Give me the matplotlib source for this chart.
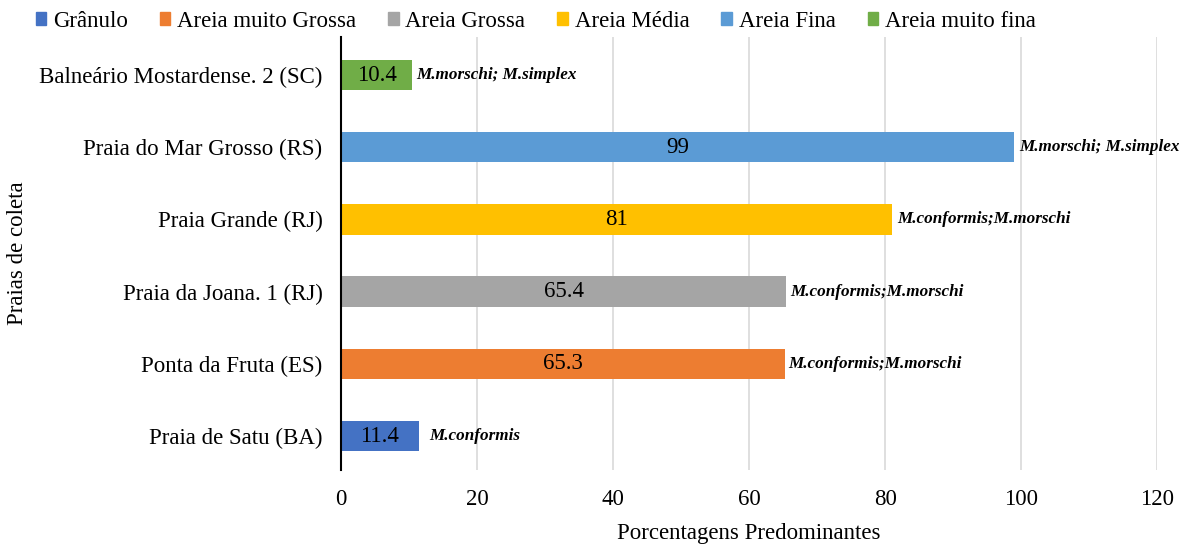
import matplotlib
matplotlib.use("Agg")
import matplotlib.pyplot as plt
from matplotlib.patches import Patch

plt.rcParams['font.family'] = ['Liberation Serif', 'DejaVu Serif']

praias = ["Praia de Satu (BA)", "Ponta da Fruta (ES)", "Praia da Joana. 1 (RJ)",
          "Praia Grande (RJ)", "Praia do Mar Grosso (RS)", "Balneário Mostardense. 2 (SC)"]
valores = [11.4, 65.3, 65.4, 81, 99, 10.4]
rotulos = ["11.4", "65.3", "65.4", "81", "99", "10.4"]
especies = ["M.conformis", "M.conformis;M.morschi", "M.conformis;M.morschi",
            "M.conformis;M.morschi", "M.morschi; M.simplex", "M.morschi; M.simplex"]
classes = ["Grânulo", "Areia muito Grossa", "Areia Grossa", "Areia Média", "Areia Fina", "Areia muito fina"]
cores = ["#4472C4", "#ED7D31", "#A5A5A5", "#FFC000", "#5B9BD5", "#70AD47"]
especie_offset = [1.6, 0.4, 0.7, 0.7, 0.7, 0.7]

fig = plt.figure(figsize=(11.93, 5.49), dpi=100)
ax = fig.add_axes([0.286, 0.144, 0.684, 0.789])

y = range(len(praias))
ax.barh(y, valores, height=0.42, color=cores, zorder=2)
for i in y:
    ax.text(valores[i] / 2, i, rotulos[i], ha='center', va='center', fontsize=16.5, zorder=3)
    ax.text(valores[i] + especie_offset[i], i, especies[i], ha='left', va='center',
            fontsize=12.3, fontweight='bold', fontstyle='italic', zorder=3)

ax.set_xlim(0, 120)
ax.set_ylim(-0.47, 5.53)
ax.set_xticks(range(0, 121, 20))
ax.set_yticks(list(y))
ax.set_yticklabels(praias)
ax.tick_params(axis='x', length=0, labelsize=16.5, pad=14)
ax.tick_params(axis='y', length=0, labelsize=16.5, pad=13.5)
ax.grid(axis='x', color='#D9D9D9', linewidth=1.2, zorder=0)
for s in ['top', 'right', 'bottom']:
    ax.spines[s].set_visible(False)
ax.spines['left'].set_color('black')
ax.spines['left'].set_linewidth(1.5)
ax.spines['left'].set_zorder(4)

ax.set_xlabel("Porcentagens Predominantes", fontsize=16.5, labelpad=9)
ax.set_ylabel("Praias de coleta", fontsize=16.5)
ax.yaxis.set_label_coords(-0.384, 0.5)

handles = [Patch(color=c) for c in cores]
fig.legend(handles, classes, loc='upper left', bbox_to_anchor=(0.0126, 1.018), ncol=6,
           frameon=False, fontsize=16.5, handlelength=0.45, handleheight=0.5,
           handletextpad=0.3, columnspacing=1.4)

fig.savefig("out.png", dpi=100)
